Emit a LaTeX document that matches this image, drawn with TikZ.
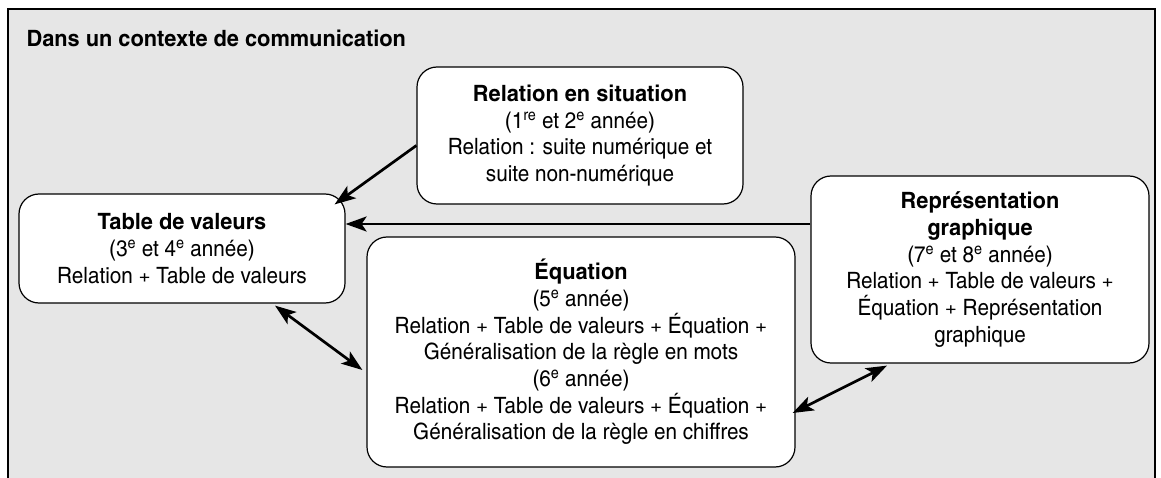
\documentclass[tikz,border=0pt]{standalone}
\usepackage{fontspec}
\setmainfont{texgyreheroscn}[Extension=.otf, UprightFont=*-regular, BoldFont=*-bold, ItalicFont=*-italic, BoldItalicFont=*-bolditalic, UprightFeatures={FakeStretch=1.12}, BoldFeatures={FakeStretch=1.18}]
\usetikzlibrary{arrows.meta}
\definecolor{bggray}{HTML}{E6E6E6}
\tikzset{
  box/.style={draw=black, line width=1.2pt, fill=white, rounded corners=20pt, align=center,
    font=\fontsize{22.5}{26.7}\selectfont, inner sep=0pt},
  tip/.style={Stealth[length=21pt,width=15pt,inset=5pt]},
  conn/.style={line width=2.7pt, -{Stealth[length=21pt,width=15pt,inset=5pt]}},
  dconn/.style={line width=2.7pt, {Stealth[length=21pt,width=15pt,inset=5pt]}-{Stealth[length=21pt,width=15pt,inset=5pt]}},
}
\newcommand{\hd}[1]{{\fontsize{22.5}{26.7}\selectfont\bfseries #1}}
\newcommand{\ex}{\textsuperscript{e}}
\begin{document}
\begin{tikzpicture}[x=1pt,y=-1pt]
\useasboundingbox (0,0) rectangle (1161,478);
\fill[bggray] (8,9) rectangle (1155,478);
\draw[line width=1.2pt] (8,478) -- (8,9) -- (1155,9) -- (1155,478);
\node[anchor=base west, font=\fontsize{22.5}{26}\selectfont\bfseries] (title) at (23,47) {Dans un contexte de communication};

\node[box, minimum width=326pt, minimum height=137pt] (rel) at (580,135.5)
  {\hd{Relation en situation}\\(1\textsuperscript{re} et 2\ex{} année)\\Relation : suite numérique et\\suite non-numérique};
\node[box, minimum width=326pt, minimum height=109pt] (tab) at (182,248.5)
  {\hd{Table de valeurs}\\(3\ex{} et 4\ex{} année)\\Relation + Table de valeurs};
\node[box, minimum width=428pt, minimum height=230pt] (eq) at (581,352)
  {\hd{Équation}\\(5\ex{} année)\\Relation + Table de valeurs + Équation +\\Généralisation de la règle en mots\\(6\ex{} année)\\Relation + Table de valeurs + Équation +\\Généralisation de la règle en chiffres};
\node[box, minimum width=338pt, minimum height=187pt] (rep) at (980,269.5)
  {\hd{Représentation}\\\hd{graphique}\\(7\ex{} et 8\ex{} année)\\Relation + Table de valeurs +\\Équation + Représentation\\graphique};

\draw[conn] ([yshift=-10pt]rel.west) -- ([xshift=-11pt,yshift=-11pt]tab.north east);
\draw[conn] ([yshift=45.5pt]rep.west) -- ([yshift=24.5pt]tab.east);
\draw[dconn] ([xshift=93pt,yshift=-2pt]tab.south) -- ([xshift=-4pt,yshift=-18pt]eq.west);
\draw[dconn] ([xshift=-3pt,yshift=-61pt]eq.east) -- ([xshift=-93pt,yshift=-2pt]rep.south);
\end{tikzpicture}
\end{document}
